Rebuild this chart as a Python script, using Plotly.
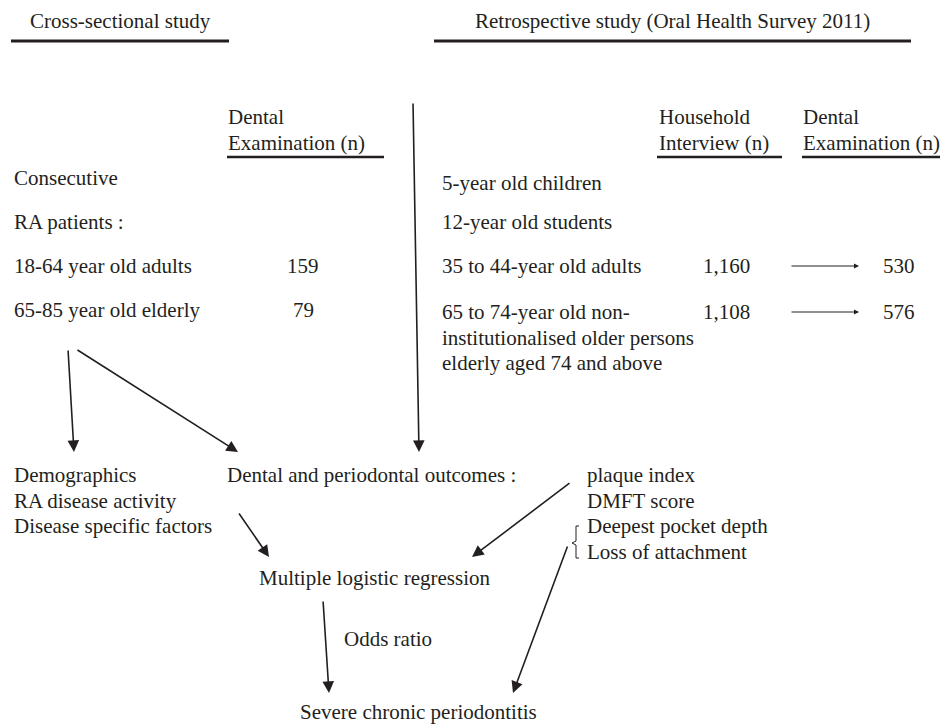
import plotly.graph_objects as go

# ---------------- data (text content and counts) ----------------
header_left = "Cross-sectional study"
header_right = "Retrospective study (Oral Health Survey 2011)"

cross_intro = ["Consecutive", "RA patients :"]
cross_groups = ["18-64 year old adults", "65-85 year old elderly"]
cross_exam_n = [159, 79]

survey_groups = [
    "5-year old children",
    "12-year old students",
    "35 to 44-year old adults",
    "65 to 74-year old non-\ninstitutionalised older persons\nelderly aged 74 and above",
]
survey_interview_n = [None, None, 1160, 1108]
survey_exam_n = [None, None, 530, 576]

factors = ["Demographics", "RA disease activity", "Disease specific factors"]
outcomes_label = "Dental and periodontal outcomes :"
outcomes = ["plaque index", "DMFT score", "Deepest pocket depth", "Loss of attachment"]
analysis = "Multiple logistic regression"
measure = "Odds ratio"
result = "Severe chronic periodontitis"

# ---------------- styling ----------------
C = "#231f20"
FONT = "Liberation Serif"
FS = 21
W, H = 948, 724
OFF = 8  # page body margin compensation: data coordinate == screen pixel
LH = 25.5  # line step inside stacked lists

fig = go.Figure()
fig.update_layout(
    width=W, height=H, margin=dict(l=0, r=0, t=0, b=0),
    paper_bgcolor="white", plot_bgcolor="white", showlegend=False,
    xaxis=dict(range=[OFF, W + OFF], visible=False, fixedrange=True),
    yaxis=dict(range=[H + OFF, OFF], visible=False, fixedrange=True),
    font=dict(family=FONT, size=FS, color=C),
)


def text(x, y, s, anchor="left"):
    fig.add_annotation(x=x, y=y, xref="x", yref="y", text=s, showarrow=False,
                       xanchor=anchor, yanchor="middle", align="left",
                       font=dict(family=FONT, size=FS, color=C), borderpad=0)


def stack(x, y0, lines):
    for i, s in enumerate(lines):
        text(x, y0 + i * LH, s)


def line(x0, y0, x1, y1, w=1.5):
    fig.add_shape(type="line", x0=x0, y0=y0, x1=x1, y1=y1, xref="x", yref="y",
                  line=dict(color=C, width=w))


def arrow(x0, y0, x1, y1, w=1.6, size=1.45, head=2):
    fig.add_annotation(x=x1, y=y1, ax=x0, ay=y0, xref="x", yref="y",
                       axref="x", ayref="y", text="", showarrow=True,
                       arrowhead=head, arrowsize=size, arrowwidth=w,
                       arrowcolor=C, standoff=0, startstandoff=0)


# headers
text(29, 21, header_left)
text(474, 21, header_right)
line(11, 41, 229, 41, 3.2)
line(434, 41, 911, 41, 3.2)

# column headers
stack(227, 117, ["Dental", "Examination (n)"])
line(227, 157, 384, 157, 2.6)
stack(658, 117, ["Household", "Interview (n)"])
line(657, 157, 782, 157, 2.6)
stack(802, 117, ["Dental", "Examination (n)"])
line(802, 157, 948, 157, 2.6)

# cross-sectional rows
left_rows_y = [178, 222, 266, 310]
for s, y in zip(cross_intro + cross_groups, left_rows_y):
    text(13, y, s)
for n, y in zip(cross_exam_n, left_rows_y[2:]):
    text(303, y, f"{n:,}", anchor="center")

# survey rows
right_rows_y = [183, 222, 266, 312]
for s, y in zip(survey_groups, right_rows_y):
    stack(441, y, s.split("\n"))
for ni, ne, y in zip(survey_interview_n, survey_exam_n, right_rows_y):
    if ni is not None:
        text(702, y, f"{ni:,}")
        arrow(790, y, 859, y, w=1.0, size=1.0, head=2)
        text(882, y, f"{ne:,}")

# big vertical arrow from survey header
arrow(413, 102, 419, 452)
# arrows from cross-sectional group
arrow(68, 349, 74, 452)
arrow(76, 349, 238, 452)

# factor / outcome lists
stack(13, 475, factors)
text(226, 475, outcomes_label)
stack(586, 475, outcomes)

# bracket for pocket depth / attachment
fig.add_shape(type="path",
              path="M 579,526 L 576,526 L 576,541 L 572,543 L 576,545 L 576,558 L 579,558",
              xref="x", yref="y", line=dict(color=C, width=1))

arrow(238, 512, 269, 557)
arrow(571, 482, 472, 557)
text(258, 578, analysis)
arrow(323, 600, 329, 693)
text(343, 639, measure)
arrow(568, 545, 513, 693)
text(299, 712, result)

fig.write_html("out.html")
